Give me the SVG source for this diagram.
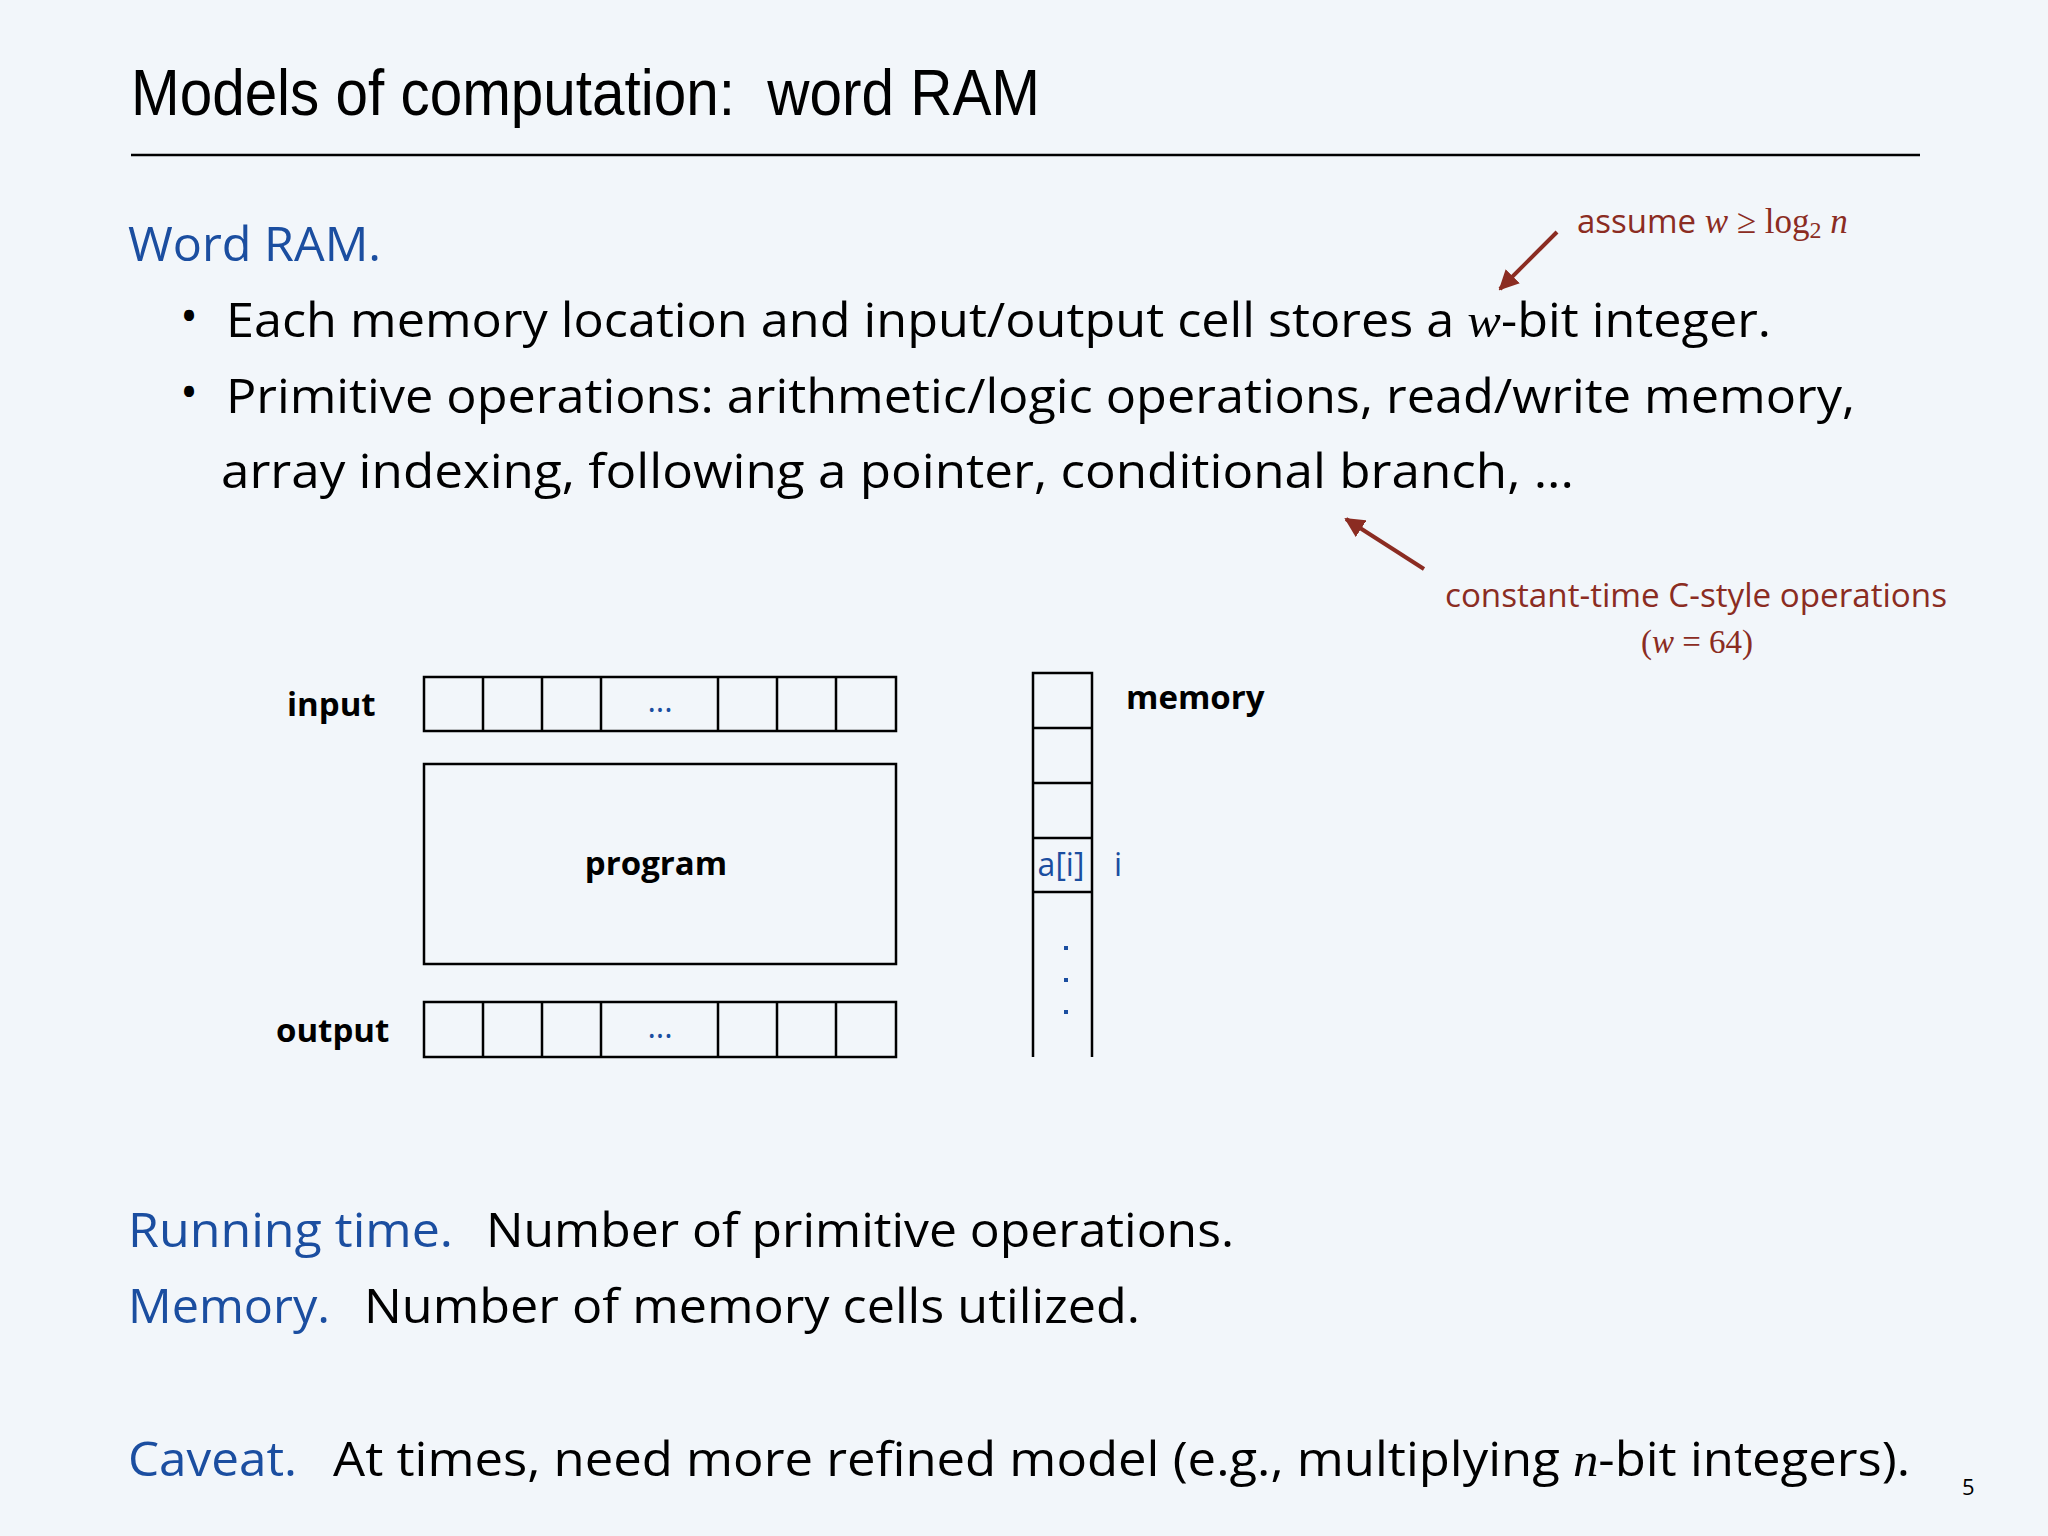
<svg xmlns="http://www.w3.org/2000/svg" width="2048" height="1536" viewBox="0 0 2048 1536">
<style>
text{white-space:pre}
.bg{fill:#f2f6fa}
.title{font-family:"Liberation Sans",Arial,sans-serif;font-size:64px;fill:#000}
.body{font-family:"Open Sans","Noto Sans",sans-serif;font-size:48px;fill:#000}
.blue{fill:#1b4ea0}
.red{font-family:"Open Sans","Noto Sans",sans-serif;font-size:33px;fill:#8b2c22}
.serif{font-family:"Liberation Serif","Times New Roman",serif}
.it{font-style:italic}
.lbl{font-family:"Open Sans","Noto Sans",sans-serif;font-size:33px;font-weight:bold;fill:#000}
.cell{fill:none;stroke:#000;stroke-width:2.5}
.bluetxt{font-family:"Open Sans","Noto Sans",sans-serif;font-size:32px;fill:#1b4ea0}
.arrow{stroke:#8b2c22;stroke-width:4;fill:none}
</style>
<defs>
<marker id="ah" viewBox="0 0 10 10" refX="9" refY="5" markerWidth="5" markerHeight="5" orient="auto" markerUnits="strokeWidth">
<path d="M0,0 L10,5 L0,10 z" fill="#8b2c22"/>
</marker>
</defs>
<rect class="bg" x="0" y="0" width="2048" height="1536"/>

<g id="title">
<text class="title" x="131" y="115" textLength="909" lengthAdjust="spacingAndGlyphs">Models of computation:  word RAM</text>
<line x1="131" y1="155" x2="1920" y2="155" stroke="#000" stroke-width="2.5"/>
</g>

<g id="wordram">
<text class="body blue" x="128" y="261" textLength="253" lengthAdjust="spacingAndGlyphs">Word RAM.</text>
<text class="body" x="180" y="333" font-size="34">•</text>
<text class="body" x="226" y="337" textLength="1545" lengthAdjust="spacingAndGlyphs">Each memory location and input/output cell stores a <tspan class="serif it">w</tspan>-bit integer.</text>
<text class="body" x="180" y="409" font-size="34">•</text>
<text class="body" x="226" y="413" textLength="1629" lengthAdjust="spacingAndGlyphs">Primitive operations: arithmetic/logic operations, read/write memory,</text>
<text class="body" x="221" y="488" textLength="1353" lengthAdjust="spacingAndGlyphs">array indexing, following a pointer, conditional branch, ...</text>
</g>

<g id="note-assume">
<text class="red" x="1577" y="233">assume <tspan class="serif it" font-size="35">w</tspan><tspan class="serif" font-size="35"> ≥ log</tspan><tspan class="serif" font-size="24" dy="5">2</tspan><tspan class="serif it" font-size="35" dy="-5"> n</tspan></text>
</g>

<g id="note-constant">
<text class="red" x="1445" y="607" textLength="502" lengthAdjust="spacingAndGlyphs">constant-time C-style operations</text>
<text class="red serif" x="1697" y="653" text-anchor="middle" font-size="34">(<tspan class="it">w</tspan> = 64)</text>
</g>

<g id="connectors">
<line class="arrow" x1="1557" y1="232" x2="1500" y2="289" marker-end="url(#ah)"/>
<line class="arrow" x1="1424" y1="569" x2="1346" y2="519" marker-end="url(#ah)"/>
</g>

<g id="input">
<text class="lbl" x="287" y="716">input</text>
<rect class="cell" x="424" y="677" width="472" height="54"/>
<path class="cell" d="M483,677V731M542,677V731M601,677V731M718,677V731M777,677V731M836,677V731"/>
<text class="bluetxt" x="660" y="712" text-anchor="middle">...</text>
</g>

<g id="program">
<rect class="cell" x="424" y="764" width="472" height="200"/>
<text class="lbl" x="656" y="875" text-anchor="middle">program</text>
</g>

<g id="output">
<text class="lbl" x="276" y="1042">output</text>
<rect class="cell" x="424" y="1002" width="472" height="55"/>
<path class="cell" d="M483,1002V1057M542,1002V1057M601,1002V1057M718,1002V1057M777,1002V1057M836,1002V1057"/>
<text class="bluetxt" x="660" y="1038" text-anchor="middle">...</text>
</g>

<g id="memory">
<text class="lbl" x="1126" y="709">memory</text>
<path class="cell" d="M1033,1057V673H1092V1057M1033,728H1092M1033,783H1092M1033,838H1092M1033,892H1092"/>
<text class="bluetxt" x="1061" y="876" text-anchor="middle">a[i]</text>
<text class="bluetxt" x="1118" y="876" text-anchor="middle">i</text>
<rect x="1064" y="946" width="4" height="4" fill="#1b4ea0"/>
<rect x="1064" y="978" width="4" height="4" fill="#1b4ea0"/>
<rect x="1064" y="1010" width="4" height="4" fill="#1b4ea0"/>
</g>

<g id="footer">
<text class="body blue" x="128" y="1247" textLength="325" lengthAdjust="spacingAndGlyphs">Running time.</text>
<text class="body" x="486" y="1247" textLength="748" lengthAdjust="spacingAndGlyphs">Number of primitive operations.</text>
<text class="body blue" x="128" y="1323" textLength="202" lengthAdjust="spacingAndGlyphs">Memory.</text>
<text class="body" x="364" y="1323" textLength="776" lengthAdjust="spacingAndGlyphs">Number of memory cells utilized.</text>
<text class="body blue" x="128" y="1476" textLength="169" lengthAdjust="spacingAndGlyphs">Caveat.</text>
<text class="body" x="333" y="1476" textLength="1577" lengthAdjust="spacingAndGlyphs">At times, need more refined model (e.g., multiplying <tspan class="serif it">n</tspan>-bit integers).</text>
<text font-family="Open Sans, sans-serif" font-size="22" x="1962" y="1495">5</text>
</g>
</svg>
